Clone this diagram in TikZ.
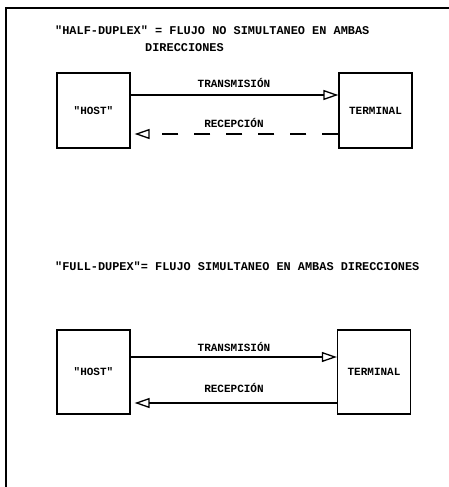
\documentclass[tikz,border=0pt]{standalone}
\usepackage{fontspec}
\setmonofont{Liberation Mono}
\usepackage{tikz}
\usetikzlibrary{
	arrows.meta,
	positioning
}

\tikzset{
	boxnode/.style={draw, line width=1.3pt, minimum width=73pt, minimum height=75pt, inner sep=0pt},
	txt/.style={font=\ttfamily\bfseries\fontsize{11}{12}\selectfont, inner sep=1pt},
	ttl/.style={font=\ttfamily\bfseries\fontsize{11.9}{13}\selectfont, anchor=west, inner sep=0pt},
	flecha/.style={line width=1.2pt, -{Triangle[open, length=15pt, width=10pt, line width=1.3pt]}}
}

\begin{document}
\begin{tikzpicture}[x=1pt, y=-1pt]
		\useasboundingbox (0,0) rectangle (449,487);
		
		% marco
		\draw[line width=1.4pt] (6,487) -- (6,8) -- (449,8);
		
		% half-duplex
		\node[ttl] (tit1) at (55,30) {"HALF-DUPLEX" = FLUJO NO SIMULTANEO EN AMBAS};
		\node[ttl] (tit1b) at (145,48) {DIRECCIONES};
		
		\node[boxnode, txt] (host1) at (93.5,110.5) {"HOST"};
		\node[boxnode, txt] (term1) at (375.5,110.5) {TERMINAL};
		
		\coordinate (a1) at (host1.east |- 0,95);
		\coordinate (b1) at (term1.west |- 0,95);
		\coordinate (c1) at (term1.west |- 0,134);
		\coordinate (d1) at (host1.east |- 0,134);
		
		\draw[flecha, line width=1.8pt] (a1) -- (b1);
		\draw[flecha, dash pattern=on 16pt off 16pt] (c1) -- ([xshift=4pt]d1);
		\node[txt] (tx1) at (234,83) {TRANSMISIÓN};
		\node[txt] (rx1) at (234,123) {RECEPCIÓN};
		
		% full-duplex
		\node[ttl] (tit2) at (55,266) {"FULL-DUPEX"= FLUJO SIMULTANEO EN AMBAS DIRECCIONES};
		
		\node[boxnode, txt, minimum height=84pt] (host2) at (93.5,372) {"HOST"};
		\node[boxnode, txt, minimum height=84pt] (term2) at (374,372) {TERMINAL};
		
		\coordinate (a2) at (host2.east |- 0,357);
		\coordinate (b2) at (term2.west |- 0,357);
		\coordinate (c2) at (term2.west |- 0,403);
		\coordinate (d2) at (host2.east |- 0,403);
		
		\draw[flecha] (a2) -- (b2);
		\draw[flecha] (c2) -- ([xshift=4pt]d2);
		\node[txt] (tx2) at (234,347) {TRANSMISIÓN};
		\node[txt] (rx2) at (234,388) {RECEPCIÓN};
	\end{tikzpicture}
\end{document}
